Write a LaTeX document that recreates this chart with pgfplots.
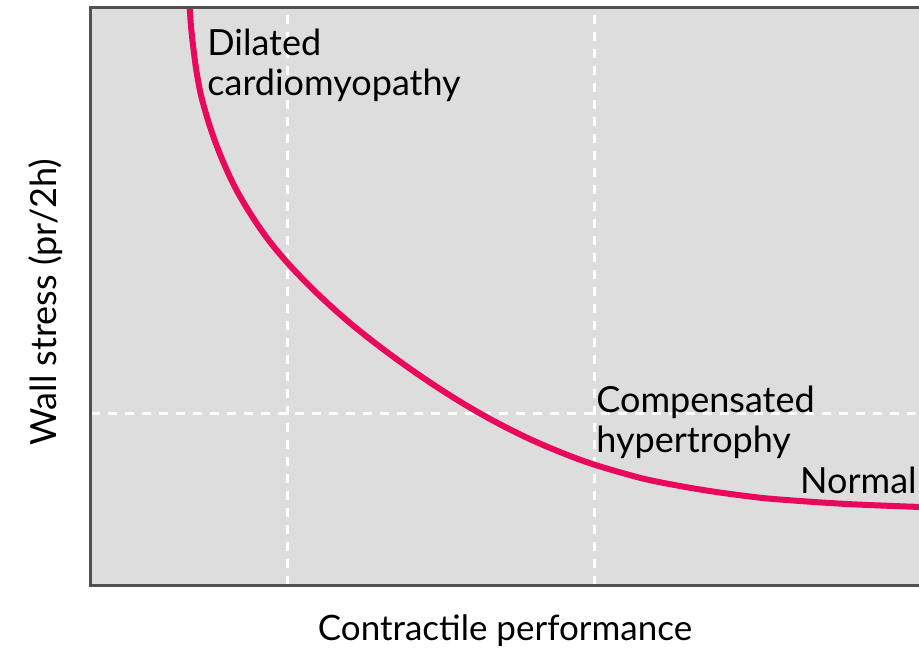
\documentclass[border=0pt]{standalone}
\usepackage{pgfplots}
\pgfplotsset{compat=1.18}
\usepackage{fontspec}
\setmainfont{Lato}
\definecolor{curvepink}{RGB}{232,8,92}
\definecolor{bggray}{RGB}{221,221,221}
\definecolor{bordergray}{RGB}{80,80,80}
\begin{document}
\begin{tikzpicture}
\begin{axis}[
  scale only axis,
  width=414pt, height=289pt,
  xmin=0, xmax=828, ymin=0, ymax=578,
  axis line style={draw=none},
  axis background/.style={fill=bggray},
  xtick={196,503}, ytick={172},
  xticklabels={}, yticklabels={},
  major tick length=0pt,
  grid=major,
  major grid style={white, line width=1.5pt, dash pattern=on 4.5pt off 4pt},
  clip mode=individual,
]
\addplot[curvepink, line width=3pt, smooth, tension=0.6] coordinates {
(97.9,590) (100,558.7) (103,531.7) (106,510.7) (111,485.7) (122,449.4)
(136,414.4) (151,385.1) (172,352.5) (194,325) (222,295.6) (252,268)
(279,245.9) (309,223.4) (342,200.6) (376,179.2) (409,160.7) (442,144.5)
(476,130.2) (502,120.8) (529,112.7) (556,105.5) (589,99) (622,93.5)
(659,88.5) (689,85.5) (756,81) (830,78)
};
\draw[bordergray, line width=1.5pt] (axis cs:830,578) -- (axis cs:0,578) -- (axis cs:0,0) -- (axis cs:830,0);
\node[anchor=base west, inner sep=0pt, font=\fontsize{18}{20}\selectfont] at (axis cs:116,530) {Dilated};
\node[anchor=base west, inner sep=0pt, font=\fontsize{18}{20}\selectfont] at (axis cs:116,490) {cardiomyopathy};
\node[anchor=base west, inner sep=0pt, font=\fontsize{18}{20}\selectfont] at (axis cs:505,173) {Compensated};
\node[anchor=base west, inner sep=0pt, font=\fontsize{18}{20}\selectfont] at (axis cs:505,133) {hypertrophy};
\node[anchor=base east, inner sep=0pt, font=\fontsize{18}{20}\selectfont] at (axis cs:826,92) {Normal};
\node[anchor=base, font=\fontsize{17.5}{20}\selectfont] at (axis cs:414,-55) {Contractile performance};
\node[anchor=base, inner sep=0pt, rotate=90, font=\fontsize{18}{20}\selectfont] at (axis cs:-34,283) {Wall stress (pr/2h)};
\coordinate (bbsw) at (axis cs:-91,-65);
\coordinate (bbne) at (axis cs:828,585);
\end{axis}
\pgfresetboundingbox
\useasboundingbox (bbsw) rectangle (bbne);
\end{tikzpicture}
\end{document}
